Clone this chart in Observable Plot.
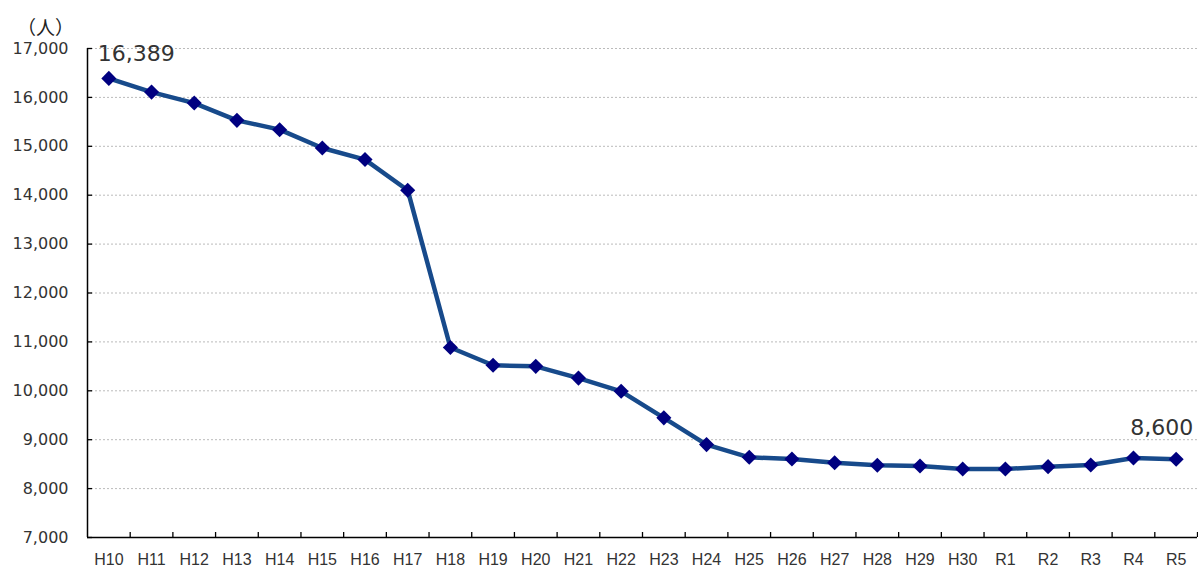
<!DOCTYPE html>
<html>
<head>
<meta charset="utf-8">
<script src="https://cdn.jsdelivr.net/npm/d3@7"></script>
<script src="https://cdn.jsdelivr.net/npm/@observablehq/plot@0.6"></script>
<style>
  html, body { margin: 0; padding: 0; background: #fff; }
</style>
</head>
<body>
<div id="chart"></div>
<script>
const categories = ["H10","H11","H12","H13","H14","H15","H16","H17","H18","H19","H20","H21","H22","H23","H24","H25","H26","H27","H28","H29","H30","R1","R2","R3","R4","R5"];
const values = [16389, 16108, 15884, 15531, 15340, 14965, 14729, 14102, 10885, 10522, 10500, 10260, 9990, 9447, 8900, 8640, 8606, 8530, 8476, 8463, 8400, 8400, 8449, 8483, 8626, 8600];
const yTicks = [7000, 8000, 9000, 10000, 11000, 12000, 13000, 14000, 15000, 16000, 17000];
const unitLabel = "（人）";

const data = categories.map((c, i) => ({i, c, v: values[i]}));
const boundaries = d3.range(1, categories.length + 1).map(k => k - 0.5);

const W = 1198, H = 574, ML = 87, MR = 1, MT = 48, MB = 37;
const fw = W - ML - MR, fh = H - MT - MB;
const fmt = d3.format(",");
const wide = "'DejaVu Sans', Verdana, sans-serif";

const chart = Plot.plot({
  width: W, height: H,
  marginLeft: ML, marginRight: MR, marginTop: MT, marginBottom: MB,
  style: {fontFamily: "'Liberation Sans', Arial, sans-serif", fontSize: "16px", color: "#333", background: "#fff", overflow: "visible"},
  x: {type: "linear", domain: [-0.5, categories.length - 0.5]},
  y: {domain: [yTicks[0], yTicks[yTicks.length - 1]]},
  marks: [
    Plot.ruleY(yTicks.slice(1), {stroke: "#bbb", strokeWidth: 1, strokeDasharray: "2,2"}),
    Plot.ruleY(yTicks, {stroke: "#000", strokeWidth: 1.3, insetRight: fw - 5}),
    Plot.ruleX(boundaries, {stroke: "#000", strokeWidth: 1.3, insetTop: fh - 5}),
    Plot.ruleX([-0.5], {stroke: "#000", strokeWidth: 1.5}),
    Plot.ruleY([yTicks[0]], {stroke: "#000", strokeWidth: 1.5}),
    Plot.axisY({ticks: yTicks, tickSize: 0, tickPadding: 19, tickFormat: fmt, label: null, fill: "#333", fontFamily: wide, fontSize: 16}),
    Plot.axisX({ticks: d3.range(categories.length), tickSize: 0, tickPadding: 16, tickFormat: i => categories[i], label: null, fill: "#333"}),
    Plot.line(data, {x: "i", y: "v", stroke: "#174a8b", strokeWidth: 4.5, strokeLinejoin: "round"}),
    Plot.dot(data, {x: "i", y: "v", symbol: "diamond2", r: 6.8, fill: "#000080", stroke: "none"}),
    Plot.text(data.filter(d => d.i === 0), {x: "i", y: "v", text: d => fmt(d.v), textAnchor: "start", dx: -11, dy: -24, fontSize: 22, fontFamily: wide, fill: "#333"}),
    Plot.text(data.filter(d => d.i === categories.length - 1), {x: "i", y: "v", text: d => fmt(d.v), textAnchor: "end", dx: 17, dy: -31, fontSize: 22, fontFamily: wide, fill: "#333"}),
    Plot.text([unitLabel], {frameAnchor: "top-left", dx: -42, dy: -27, fontSize: 19, fontFamily: "'Noto Sans CJK JP', sans-serif", textAnchor: "middle", fill: "#222"})
  ]
});
document.getElementById("chart").appendChild(chart);
</script>
</body>
</html>
